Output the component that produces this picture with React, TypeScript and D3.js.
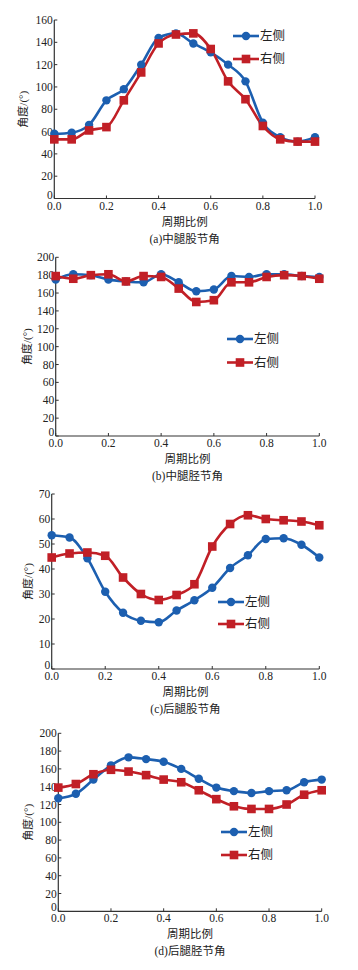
import * as d3 from "d3";

// shared x positions: 16 samples over one gait cycle
const cycle = [0, 1 / 15, 2 / 15, 3 / 15, 4 / 15, 5 / 15, 6 / 15, 7 / 15, 8 / 15, 9 / 15, 10 / 15, 11 / 15, 12 / 15, 13 / 15, 14 / 15, 1];
const xTicks = [0, 0.2, 0.4, 0.6, 0.8, 1.0];
const seriesNames = ["左侧", "右侧"];

// (a) middle leg femur
const aLeft = [58, 59, 66, 88, 98, 120, 144, 148, 139, 131, 120, 105, 68, 55, 51, 55];
const aRight = [53, 53, 61, 64, 88, 113, 139, 147, 148, 134, 105, 89, 65, 53, 51, 51];
const aTicks = [0, 20, 40, 60, 80, 100, 120, 140, 160];

// (b) middle leg tibia
const bLeft = [175, 181, 180, 175, 173, 172, 181, 172, 162, 164, 179, 178, 181, 181, 179, 178];
const bRight = [179, 176, 180, 181, 173, 179, 178, 165, 150, 152, 172, 172, 178, 180, 179, 176];
const bTicks = [0, 20, 40, 60, 80, 100, 120, 140, 160, 180, 200];

// (c) hind leg femur
const cLeft = [53.5, 52.6, 44.3, 30.9, 22.5, 19.3, 18.7, 23.4, 27.5, 32.5, 40.4, 45.5, 52, 52.3, 49.7, 44.6];
const cRight = [44.6, 46.2, 46.6, 45.3, 36.6, 30, 27.6, 29.6, 33.9, 49, 58, 61.5, 60, 59.5, 59, 57.5];
const cTicks = [0, 10, 20, 30, 40, 50, 60, 70];

// (d) hind leg tibia
const dLeft = [127, 132, 148, 164, 173, 171, 168, 160, 149, 139, 135, 133, 135, 136, 145, 148];
const dRight = [139, 143, 154, 159, 157, 153, 148, 145, 136, 126, 118, 115, 115, 120, 131, 136];
const dTicks = [0, 20, 40, 60, 80, 100, 120, 140, 160, 180, 200];

const BLUE = "#1c5fb0";
const RED = "#c11f26";
const NUM_FONT = "'Liberation Serif', 'DejaVu Serif', serif";
const CJK_FONT = "'Liberation Serif', 'Noto Sans CJK SC', serif";

type PanelProps = {
  left: number[];
  right: number[];
  yTicks: number[];
  title: string;
  x0: number;
  x1: number;
  yTop: number;
  yBottom: number;
  yLabelX: number;
  legendX: number;
  legendY: number;
  legendGap: number;
};

function Panel(p: PanelProps) {
  const xScale = d3.scaleLinear().domain([0, 1]).range([p.x0, p.x1]);
  const yMax = p.yTicks[p.yTicks.length - 1];
  const yScale = d3.scaleLinear().domain([0, yMax]).range([p.yBottom, p.yTop]);

  const line = d3
    .line<number>()
    .x((_, i) => xScale(cycle[i]))
    .y((d) => yScale(d))
    .curve(d3.curveMonotoneX);

  const yMid = (p.yTop + p.yBottom) / 2;

  return (
    <g>
      {/* axes */}
      <line x1={p.x0} x2={p.x0} y1={p.yTop} y2={p.yBottom} stroke="#333" strokeWidth={1.2} />
      <line x1={p.x0} x2={p.x1} y1={p.yBottom} y2={p.yBottom} stroke="#333" strokeWidth={1.2} />
      {p.yTicks.map((t) => (
        <g key={"y" + t}>
          <line x1={p.x0} x2={p.x0 + 3} y1={yScale(t)} y2={yScale(t)} stroke="#333" />
          <text
            x={p.x0 - 1.5}
            y={yScale(t) - (t === 0 ? 4 : 0)}
            dy="0.35em"
            textAnchor="end"
            fontSize={11.5}
            fontFamily={NUM_FONT}
            fill="#222"
          >
            {t}
          </text>
        </g>
      ))}
      {xTicks.map((t) => (
        <g key={"x" + t}>
          <line x1={xScale(t)} x2={xScale(t)} y1={p.yBottom} y2={p.yBottom - 3} stroke="#333" />
          <text
            x={xScale(t)}
            y={p.yBottom + 11}
            textAnchor="middle"
            fontSize={11.5}
            fontFamily={NUM_FONT}
            fill="#222"
          >
            {t.toFixed(1)}
          </text>
        </g>
      ))}
      <text
        transform={`translate(${p.yLabelX},${yMid}) rotate(-90)`}
        textAnchor="middle"
        dy="0.35em"
        fontSize={11}
        fontFamily={CJK_FONT}
        fill="#222"
      >
        角度/(°)
      </text>
      <text
        x={(p.x0 + p.x1) / 2}
        y={p.yBottom + 27}
        textAnchor="middle"
        fontSize={11.5}
        fontFamily={CJK_FONT}
        fill="#222"
      >
        周期比例
      </text>
      <text
        x={(p.x0 + p.x1) / 2}
        y={p.yBottom + 44}
        textAnchor="middle"
        fontSize={11.5}
        fontFamily={CJK_FONT}
        fill="#222"
      >
        {p.title}
      </text>

      {/* series */}
      <path d={line(p.left) ?? ""} fill="none" stroke={BLUE} strokeWidth={2.6} />
      <path d={line(p.right) ?? ""} fill="none" stroke={RED} strokeWidth={2.6} />
      {p.left.map((d, i) => (
        <circle key={"l" + i} cx={xScale(cycle[i])} cy={yScale(d)} r={4.2} fill={BLUE} />
      ))}
      {p.right.map((d, i) => (
        <rect key={"r" + i} x={xScale(cycle[i]) - 4.3} y={yScale(d) - 4.3} width={8.6} height={8.6} fill={RED} />
      ))}

      {/* legend */}
      {seriesNames.map((name, i) => {
        const ly = p.legendY + i * p.legendGap;
        const color = i === 0 ? BLUE : RED;
        return (
          <g key={name}>
            <line x1={p.legendX} x2={p.legendX + 26} y1={ly} y2={ly} stroke={color} strokeWidth={2.6} />
            {i === 0 ? (
              <circle cx={p.legendX + 13} cy={ly} r={4.2} fill={color} />
            ) : (
              <rect x={p.legendX + 8.7} y={ly - 4.3} width={8.6} height={8.6} fill={color} />
            )}
            <text x={p.legendX + 27} y={ly} dy="0.35em" fontSize={12.5} fontFamily={CJK_FONT} fill="#222">
              {name}
            </text>
          </g>
        );
      })}
    </g>
  );
}

export default function App() {
  return (
    <svg
      width={358}
      height={970}
      style={{ position: "absolute", left: 0, top: 0, background: "#fff" }}
    >
      <Panel
        left={aLeft}
        right={aRight}
        yTicks={aTicks}
        title="(a)中腿股节角"
        x0={54.3}
        x1={315}
        yTop={20}
        yBottom={198.5}
        yLabelX={23}
        legendX={233}
        legendY={36}
        legendGap={23}
      />
      <Panel
        left={bLeft}
        right={bRight}
        yTicks={bTicks}
        title="(b)中腿胫节角"
        x0={55.7}
        x1={319.3}
        yTop={257.3}
        yBottom={436}
        yLabelX={27}
        legendX={227}
        legendY={339}
        legendGap={23.5}
      />
      <Panel
        left={cLeft}
        right={cRight}
        yTicks={cTicks}
        title="(c)后腿股节角"
        x0={51.7}
        x1={319.3}
        yTop={494}
        yBottom={669}
        yLabelX={28}
        legendX={218}
        legendY={602}
        legendGap={22}
      />
      <Panel
        left={dLeft}
        right={dRight}
        yTicks={dTicks}
        title="(d)后腿胫节角"
        x0={58.3}
        x1={321.7}
        yTop={733.3}
        yBottom={911.3}
        yLabelX={28}
        legendX={221}
        legendY={832}
        legendGap={23}
      />
    </svg>
  );
}
